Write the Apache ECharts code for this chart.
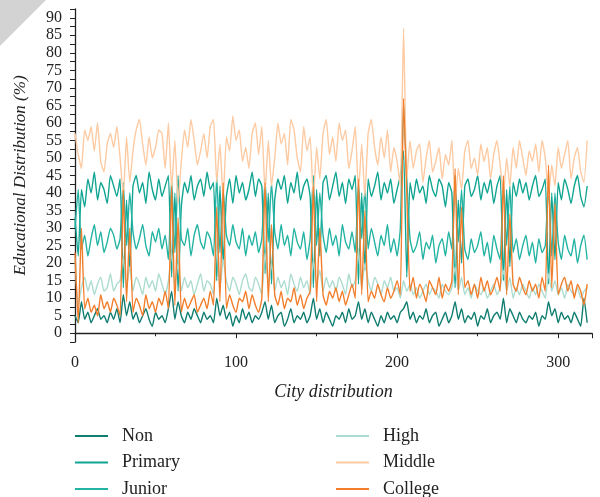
<!DOCTYPE html>
<html>
<head>
<meta charset="utf-8">
<script src="https://cdn.jsdelivr.net/npm/echarts@6/dist/echarts.min.js"></script>
<style>
  html, body { margin: 0; padding: 0; background: #fff; }
  #chart { width: 600px; height: 497px; }
</style>
</head>
<body>
<div id="chart"></div>
<script>
// sampled every 2 cities along the x axis
const cityStep = 2

const nonEdu = [
  5, 3, 9, 4, 6, 3, 5, 7, 4, 5, 3, 6, 4, 7, 3, 11, 5, 9, 4, 6,
  3, 5, 7, 4, 2, 6, 4, 5, 3, 7, 12, 4, 9, 5, 3, 6, 4, 7, 5, 3,
  6, 4, 5, 3, 10, 5, 8, 4, 6, 2, 5, 3, 7, 4, 6, 3, 5, 4, 6, 9,
  4, 8, 3, 5, 6, 2, 4, 7, 3, 5, 4, 6, 3, 5, 10, 4, 7, 3, 6, 4,
  2, 5, 4, 6, 3, 7, 4, 5, 9, 4, 7, 3, 6, 4, 2, 5, 3, 6, 4, 5,
  3, 6, 7, 9, 4, 6, 3, 5, 4, 7, 3, 5, 6, 2, 4, 6, 3, 5, 9, 4,
  7, 3, 5, 4, 6, 2, 5, 4, 7, 3, 5, 6, 4, 10, 3, 7, 5, 3, 6, 4,
  3, 5, 4, 6, 2, 5, 4, 9, 5, 7, 3, 6, 4, 5, 3, 6, 4, 2, 10, 3
]
const primary = [
  33, 22, 41, 36, 44, 40, 46, 38, 43, 41, 37, 45, 42, 39, 44, 13, 38, 18, 42, 45,
  40, 43, 37, 46, 41, 38, 44, 39, 42, 45, 16, 40, 12, 36, 43, 40, 45, 38, 42, 44,
  39, 46, 41, 43, 15, 42, 20, 39, 44, 37, 45, 40, 43, 38, 41, 46, 39, 44, 42, 17,
  40, 14, 38, 44, 41, 45, 37, 43, 40, 46, 38, 42, 44, 39, 13, 41, 22, 43, 45, 38,
  42, 46, 39, 43, 37, 44, 41, 45, 14, 40, 18, 44, 39, 42, 46, 38, 43, 40, 44, 37,
  41, 45, 52, 16, 43, 38, 44, 40, 42, 37, 45, 41, 39, 44, 42, 36, 43, 40, 13, 38,
  20, 42, 44, 39, 41, 45, 38, 43, 40, 44, 37, 42, 45, 15, 41, 19, 43, 39, 44, 40,
  43, 38, 42, 45, 39, 41, 44, 14, 40, 21, 43, 38, 44, 41, 37, 42, 45, 39, 36, 42
]
const junior = [
  30, 41, 24, 28, 22, 27, 31, 25, 29, 23, 26, 30, 28, 24, 27, 43, 25, 40, 29, 24,
  27, 31, 25, 22, 29, 26, 30, 24, 28, 21, 44, 23, 45, 27, 25, 30, 22, 28, 31, 26,
  24, 29, 27, 22, 45, 23, 41, 28, 25, 31, 26, 24, 30, 22, 28, 25, 29, 23, 27, 44,
  26, 43, 29, 24, 31, 25, 28, 22, 30, 26, 24, 29, 21, 27, 45, 25, 40, 28, 23, 30,
  25, 28, 22, 31, 26, 24, 29, 23, 43, 27, 41, 24, 30, 26, 22, 28, 25, 31, 23, 27,
  22, 30, 66, 44, 27, 23, 25, 29, 21, 26, 24, 28, 20, 25, 27, 22, 29, 24, 45, 26,
  41, 24, 21, 27, 23, 25, 29, 22, 26, 20, 28, 24, 21, 44, 25, 42, 23, 27, 21, 25,
  28, 22, 26, 20, 27, 23, 25, 43, 22, 40, 26, 21, 28, 24, 22, 27, 20, 25, 28, 21
]
const high = [
  21, 8, 13, 16, 12, 15, 11, 14, 16, 12, 13, 17, 12, 14, 15, 22, 13, 19, 12, 16,
  14, 11, 16, 13, 15, 12, 17, 14, 11, 15, 23, 14, 20, 12, 16, 13, 15, 11, 14, 17,
  12, 15, 14, 11, 25, 13, 21, 15, 12, 16, 14, 11, 15, 17, 13, 12, 16, 14, 11, 23,
  14, 20, 12, 16, 13, 15, 11, 17, 14, 12, 16, 13, 15, 11, 21, 14, 18, 12, 16, 13,
  15, 12, 16, 14, 11, 17, 13, 15, 24, 13, 20, 15, 12, 16, 14, 11, 15, 13, 16, 12,
  13, 10, 15, 12, 14, 11, 13, 10, 12, 14, 11, 13, 12, 10, 14, 12, 11, 13, 19, 12,
  16, 11, 13, 10, 14, 12, 11, 13, 10, 12, 14, 11, 13, 18, 12, 16, 10, 13, 11, 14,
  12, 10, 13, 11, 14, 12, 10, 17, 12, 15, 11, 13, 10, 14, 12, 11, 13, 10, 12, 13
]
const middle = [
  57, 51, 47, 58, 55, 59, 52, 60, 49, 46, 54, 57, 53, 59, 50, 39, 56, 43, 52, 58,
  61, 54, 48, 56, 50, 53, 58, 57, 47, 60, 41, 55, 37, 49, 58, 53, 61, 55, 48, 52,
  57, 50, 59, 61, 43, 54, 38, 56, 52, 62, 55, 58, 49, 53, 47, 57, 60, 51, 59, 40,
  55, 42, 50, 60, 54, 57, 48, 61, 58, 50, 46, 59, 52, 56, 38, 53, 44, 57, 61, 51,
  56, 49, 60, 55, 58, 47, 52, 59, 40, 54, 39, 57, 61, 53, 48, 56, 50, 58, 46, 53,
  49, 42, 87, 44, 55, 47, 52, 54, 43, 50, 55, 46, 49, 53, 44, 51, 48, 55, 37, 47,
  41, 52, 55, 47, 50, 45, 54, 49, 53, 44, 51, 55, 48, 39, 50, 42, 53, 47, 55, 50,
  45, 52, 49, 54, 46, 55, 50, 39, 48, 42, 53, 47, 51, 55, 44, 50, 53, 46, 43, 55
]
const college = [
  23, 3, 30, 7, 10, 6, 8, 5, 11, 7, 9, 6, 10, 8, 5, 41, 9, 30, 6, 10,
  8, 5, 11, 7, 9, 6, 10, 8, 12, 7, 42, 8, 33, 6, 10, 7, 9, 11, 6, 8,
  10, 7, 12, 8, 36, 9, 43, 7, 11, 8, 6, 10, 9, 12, 7, 11, 8, 6, 10, 43,
  9, 31, 11, 8, 12, 7, 10, 9, 13, 8, 11, 7, 10, 12, 42, 9, 30, 11, 8, 12,
  10, 13, 9, 12, 8, 11, 14, 10, 44, 11, 35, 9, 12, 10, 14, 11, 9, 13, 10, 12,
  15, 11, 67, 40, 12, 16, 10, 14, 12, 9, 15, 13, 11, 16, 10, 14, 12, 15, 47, 11,
  36, 13, 15, 11, 14, 10, 16, 12, 15, 11, 13, 16, 12, 45, 11, 34, 14, 12, 16, 13,
  11, 15, 12, 14, 10, 16, 12, 48, 13, 37, 11, 14, 16, 12, 15, 10, 14, 12, 8, 14
]

const seriesNames = ['Non', 'Primary', 'Junior', 'High', 'Middle', 'College']
const seriesValues = [nonEdu, primary, junior, high, middle, college]
const seriesColors = ['#0f7d6f', '#10a592', '#22b3a3', '#acdccf', '#fdcaa2', '#f27e2b']

const font = 'Liberation Serif, DejaVu Serif, serif'
const chart = echarts.init(document.getElementById('chart'))

const legendBase = {
  orient: 'vertical',
  top: 427,
  height: 80,
  padding: 0,
  icon: 'rect',
  itemWidth: 33, itemHeight: 2, itemGap: 8.5,
  textStyle: { fontFamily: font, fontSize: 18, lineHeight: 18, color: '#222', padding: [0, 0, 0, 9] }
}

chart.setOption({
  animation: false,
  grid: { left: 75, right: 8, top: 9, bottom: 155 },
  graphic: [{
    type: 'polygon',
    shape: { points: [[0, 0], [46, 0], [0, 46]] },
    style: { fill: '#d3d3d3' },
    silent: true
  }],
  legend: [
    Object.assign({ data: seriesNames.slice(0, 3), left: 75 }, legendBase),
    Object.assign({ data: seriesNames.slice(3), left: 336 }, legendBase)
  ],
  xAxis: {
    type: 'value',
    min: 0, max: 321, interval: 100,
    name: 'City distribution',
    nameLocation: 'middle',
    nameGap: 41,
    nameTextStyle: { fontFamily: font, fontStyle: 'italic', fontSize: 18, color: '#222' },
    axisLine: { lineStyle: { color: '#222', width: 1.3 } },
    axisTick: { show: true, length: 5, lineStyle: { color: '#222' } },
    minorTick: { show: true, splitNumber: 2, length: 3, lineStyle: { color: '#222' } },
    axisLabel: {
      fontFamily: font, fontSize: 16, color: '#222', margin: 13,
      showMaxLabel: false
    },
    splitLine: { show: false }
  },
  yAxis: {
    type: 'value',
    min: -2.5, max: 92.5, interval: 2.5,
    name: 'Educational Distribution (%)',
    nameLocation: 'middle',
    nameGap: 46,
    nameTextStyle: { fontFamily: font, fontStyle: 'italic', fontSize: 17, color: '#222' },
    axisLine: { show: true, lineStyle: { color: '#222', width: 1.3 } },
    axisTick: { show: true, length: 5, lineStyle: { color: '#222' } },
    axisLabel: {
      fontFamily: font, fontSize: 16, color: '#222', margin: 13,
      formatter: v => (v >= 0 && v <= 90 && v % 5 === 0) ? String(v) : ''
    },
    splitLine: { show: false }
  },
  series: seriesNames.map((name, k) => ({
    name,
    type: 'line',
    symbol: 'none',
    smooth: 0.15,
    data: seriesValues[k].map((v, i) => [i * cityStep, v]),
    lineStyle: { width: 1.4, color: seriesColors[k] },
    itemStyle: { color: seriesColors[k] }
  }))
})
</script>
</body>
</html>
